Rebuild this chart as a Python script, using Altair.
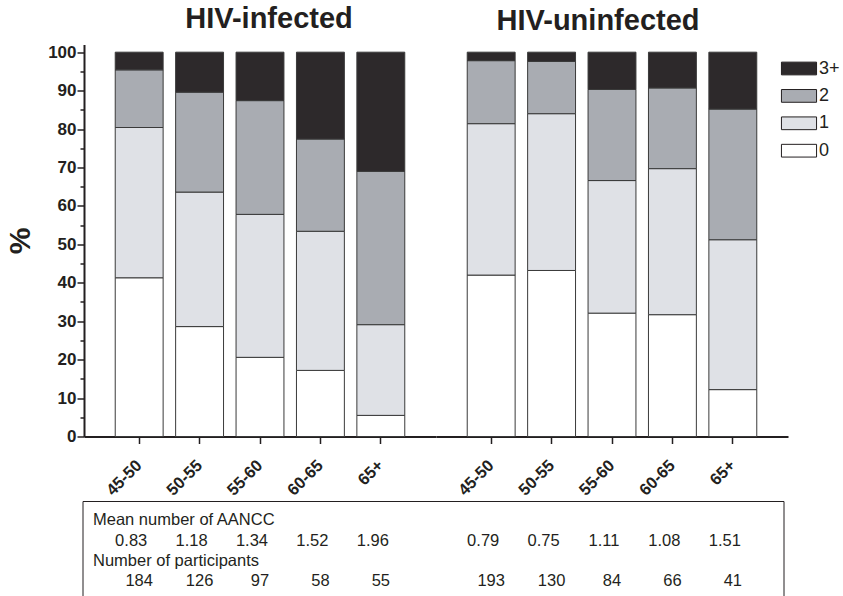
import altair as alt
import pandas as pd

# Age groups and number of age-associated non-communicable comorbidities (AANCC)
ages = ["45-50", "50-55", "55-60", "60-65", "65+"]
levels = ["0", "1", "2", "3+"]

# Percent of participants with 0 / 1 / 2 / 3+ AANCC, per age group
infected_0 = [41.3, 28.6, 20.6, 17.2, 5.5]
infected_1 = [39.1, 35.0, 37.2, 36.2, 23.6]
infected_2 = [15.0, 26.0, 29.6, 24.0, 39.9]
infected_3 = [4.6, 10.4, 12.6, 22.6, 31.0]

uninfected_0 = [42.0, 43.2, 32.1, 31.7, 12.2]
uninfected_1 = [39.4, 40.8, 34.5, 38.0, 39.0]
uninfected_2 = [16.4, 13.6, 23.7, 21.0, 34.0]
uninfected_3 = [2.2, 2.4, 9.7, 9.3, 14.8]

# Table rows under the bars
mean_infected = [0.83, 1.18, 1.34, 1.52, 1.96]
mean_uninfected = [0.79, 0.75, 1.11, 1.08, 1.51]
n_infected = [184, 126, 97, 58, 55]
n_uninfected = [193, 130, 84, 66, 41]
row_headers = ["Mean number of AANCC", "Number of participants"]

group_titles = ["HIV-infected", "HIV-uninfected"]

ink = "#231f20"
font = "Liberation Sans"
level_colors = ["#2d292b", "#a9acb2", "#dfe1e6", "#ffffff"]  # 3+, 2, 1, 0


def stack_frame(series):
    rows = []
    for rank, (lvl, vals) in enumerate(zip(levels, series)):
        for age, v in zip(ages, vals):
            rows.append({"age": age, "level": lvl, "rank": rank, "pct": v})
    return pd.DataFrame(rows)


x_axis = alt.Axis(
    title=None,
    labelAngle=-45,
    labelAlign="right",
    labelBaseline="middle",
    labelFont=font,
    labelFontSize=16.5,
    labelFontWeight="bold",
    labelColor=ink,
    labelPadding=19,
    tickSize=7,
    tickWidth=1.5,
    tickColor=ink,
    domainColor=ink,
    domainWidth=2,
)


def x_enc():
    return alt.X(
        "age:N",
        sort=ages,
        scale=alt.Scale(paddingInner=0.207, paddingOuter=0.517),
        axis=x_axis,
    )


y_axis = alt.Axis(
    title="%",
    titleFont=font,
    titleFontSize=30,
    titleFontWeight="bold",
    titleColor=ink,
    titlePadding=12,
    values=list(range(0, 101, 5)),
    labelExpr="datum.value % 10 === 0 ? datum.label : ''",
    labelOverlap=False,
    labelFlush=False,
    labelFont=font,
    labelFontSize=17,
    labelFontWeight="bold",
    labelColor=ink,
    labelPadding=1,
    tickSize={"condition": {"test": "datum.value % 10 === 0", "value": 7}, "value": 4},
    tickWidth=1.5,
    tickColor=ink,
    domainColor=ink,
    domainWidth=2,
    grid=False,
)

color_enc = alt.Color(
    "level:N",
    scale=alt.Scale(domain=["3+", "2", "1", "0"], range=level_colors),
    legend=alt.Legend(
        title=None,
        orient="none",
        legendX=706,
        legendY=15,
        symbolType="M-2.7,-0.98H2.7V0.98H-2.7Z",
        symbolSize=169,
        symbolStrokeColor=ink,
        symbolStrokeWidth=1,
        symbolOpacity=1,
        labelFont=font,
        labelFontSize=18,
        labelColor=ink,
        labelOffset=11,
        rowPadding=9.4,
        padding=0,
    ),
)

W, H = 352, 392


def panel(series, means, counts, title, title_dx, first):
    bars = alt.Chart(stack_frame(series)).mark_bar(
        stroke="#3a3a3a", strokeWidth=1, opacity=1
    ).encode(
        x=x_enc(),
        y=alt.Y(
            "pct:Q",
            stack="zero",
            scale=alt.Scale(domain=[0, 102], nice=False),
            axis=y_axis if first else None,
        ),
        color=color_enc,
        order=alt.Order("rank:Q"),
    )

    table = pd.DataFrame({"age": ages, "mean": means, "n": counts})
    text_style = dict(font=font, fontSize=16.5, color=ink, baseline="alphabetic")
    mean_text = alt.Chart(table).mark_text(dx=-8, **text_style).encode(
        x=x_enc(), y=alt.value(501), text=alt.Text("mean:Q", format=".2f")
    )
    n_text = alt.Chart(table).mark_text(**text_style).encode(
        x=x_enc(), y=alt.value(541), text=alt.Text("n:Q")
    )
    layers = [bars, mean_text, n_text]

    if first:
        head_style = dict(font=font, fontSize=16.5, color=ink, baseline="alphabetic", align="left")
        heads = pd.DataFrame({"label": row_headers})
        h1 = alt.Chart(heads.iloc[[0]]).mark_text(**head_style).encode(
            x=alt.value(9), y=alt.value(480), text="label:N"
        )
        h2 = alt.Chart(heads.iloc[[1]]).mark_text(**head_style).encode(
            x=alt.value(9), y=alt.value(521), text="label:N"
        )
        frame_src = pd.DataFrame({"k": [0]})
        rule = dict(color=ink, strokeWidth=1)
        top = alt.Chart(frame_src).mark_rule(**rule).encode(
            x=alt.value(-1), x2=alt.value(700), y=alt.value(457)
        )
        left = alt.Chart(frame_src).mark_rule(**rule).encode(
            x=alt.value(-1), y=alt.value(457), y2=alt.value(553)
        )
        right = alt.Chart(frame_src).mark_rule(**rule).encode(
            x=alt.value(700), y=alt.value(457), y2=alt.value(553)
        )
        layers += [h1, h2, top, left, right]

    return alt.layer(*layers).properties(
        width=W,
        height=H,
        title=alt.TitleParams(
            title,
            font=font,
            fontSize=29,
            fontWeight="bold",
            color=ink,
            anchor="middle",
            dx=title_dx,
            offset=9,
        ),
    )


left_panel = panel(
    [infected_0, infected_1, infected_2, infected_3],
    mean_infected, n_infected, group_titles[0], 9, True,
)
right_panel = panel(
    [uninfected_0, uninfected_1, uninfected_2, uninfected_3],
    mean_uninfected, n_uninfected, group_titles[1], -14, False,
)

chart = (
    alt.hconcat(left_panel, right_panel, spacing=0, bounds="flush")
    .resolve_scale(x="independent", y="shared", color="shared")
    .resolve_legend(color="shared")
    .properties(padding={"left": 5, "top": 4.5, "right": 0, "bottom": 0}, background="white")
    .configure_view(stroke=None)
)

chart.save("out.html", embed_options={"renderer": "svg", "actions": False})
